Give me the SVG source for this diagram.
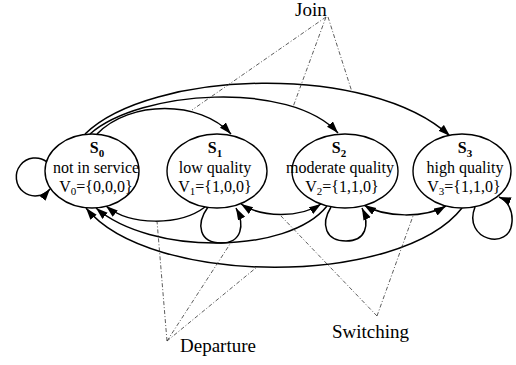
<svg xmlns="http://www.w3.org/2000/svg" width="516" height="365" viewBox="0 0 516 365">
<defs>
<marker id="ah" markerUnits="userSpaceOnUse" markerWidth="13" markerHeight="9" refX="12" refY="4" orient="auto-start-reverse">
<path d="M0,0 L12,4 L0,8 z" fill="#000"/>
</marker>
<style>
.node ellipse{fill:#fff;stroke:#000;stroke-width:1.4}
.node text{font-family:"Liberation Serif","Times New Roman",serif;font-size:16px;fill:#000;text-anchor:middle}
.node .t{font-weight:bold}
.sub{font-size:11px}
.c{fill:none;stroke:#000;stroke-width:1.5}
.a{marker-end:url(#ah)}
.b{marker-start:url(#ah);marker-end:url(#ah)}
.d{fill:none;stroke:#333;stroke-width:0.8;stroke-dasharray:4 2 1 2}
.lbl{font-family:"Liberation Serif","Times New Roman",serif;font-size:19px;fill:#000}
</style>
</defs>
<rect width="516" height="365" fill="#fff"/>
<g id="connectors">
<path class="c a" d="M97,134 C130,100 200,100 231,134"/>
<path class="c a" d="M90,134 C140,90 290,80 338,133"/>
<path class="c a" d="M85,134 C150,70 370,62 450,136"/>
<path class="c a" d="M205,207 C180,226 130,226 106,206"/>
<path class="c a" d="M327,206 C288,255 150,255 96,208"/>
<path class="c a" d="M462,208 C400,287 150,287 86,208"/>
<path class="c b" d="M241,204 C262,218 300,218 321,204"/>
<path class="c b" d="M364,205 C385,218 425,218 446,206"/>
<path class="c a" d="M47,162 A19 19 0 1 0 50,189"/>
<path class="c a" d="M208,207 C195,225 200,243 221,243 C242,243 245,225 236,208"/>
<path class="c a" d="M331,207 C320,225 326,241 346,241 C366,241 370,225 362,208"/>
<path class="c a" d="M475,207 C462,240 510,252 512,222 C513,210 507,200 499,197"/>
</g>
<g id="annotations">
<path class="d" d="M326,17 L192,110 M326,17 L293,107 M328,17 L352,92"/>
<path class="d" d="M167,341 L157,221 M167,341 L230,244 M167,341 L257,267"/>
<path class="d" d="M377,316 L281,216 M377,316 L413,216"/>
<text class="lbl" x="295" y="16">Join</text>
<text class="lbl" x="180" y="352">Departure</text>
<text class="lbl" x="332" y="338">Switching</text>
</g>
<g id="S0" class="node">
<ellipse cx="92" cy="171" rx="47" ry="37"/>
<text class="t" x="97" y="153">S<tspan class="sub" dy="4">0</tspan></text>
<text x="96" y="173">not in service</text>
<text x="96" y="192">V<tspan class="sub" dy="3">0</tspan><tspan dy="-3">={0,0,0}</tspan></text>
</g>
<g id="S1" class="node">
<ellipse cx="217" cy="171" rx="50" ry="37"/>
<text class="t" x="215" y="153">S<tspan class="sub" dy="4">1</tspan></text>
<text x="215" y="173">low quality</text>
<text x="215" y="192">V<tspan class="sub" dy="3">1</tspan><tspan dy="-3">={1,0,0}</tspan></text>
</g>
<g id="S2" class="node">
<ellipse cx="345" cy="171" rx="53" ry="37"/>
<text class="t" x="339" y="153">S<tspan class="sub" dy="4">2</tspan></text>
<text x="340" y="173">moderate quality</text>
<text x="342" y="192">V<tspan class="sub" dy="3">2</tspan><tspan dy="-3">={1,1,0}</tspan></text>
</g>
<g id="S3" class="node">
<ellipse cx="462" cy="171" rx="49" ry="37"/>
<text class="t" x="465" y="153">S<tspan class="sub" dy="4">3</tspan></text>
<text x="465" y="173">high quality</text>
<text x="464" y="192">V<tspan class="sub" dy="3">3</tspan><tspan dy="-3">={1,1,0}</tspan></text>
</g>
</svg>
